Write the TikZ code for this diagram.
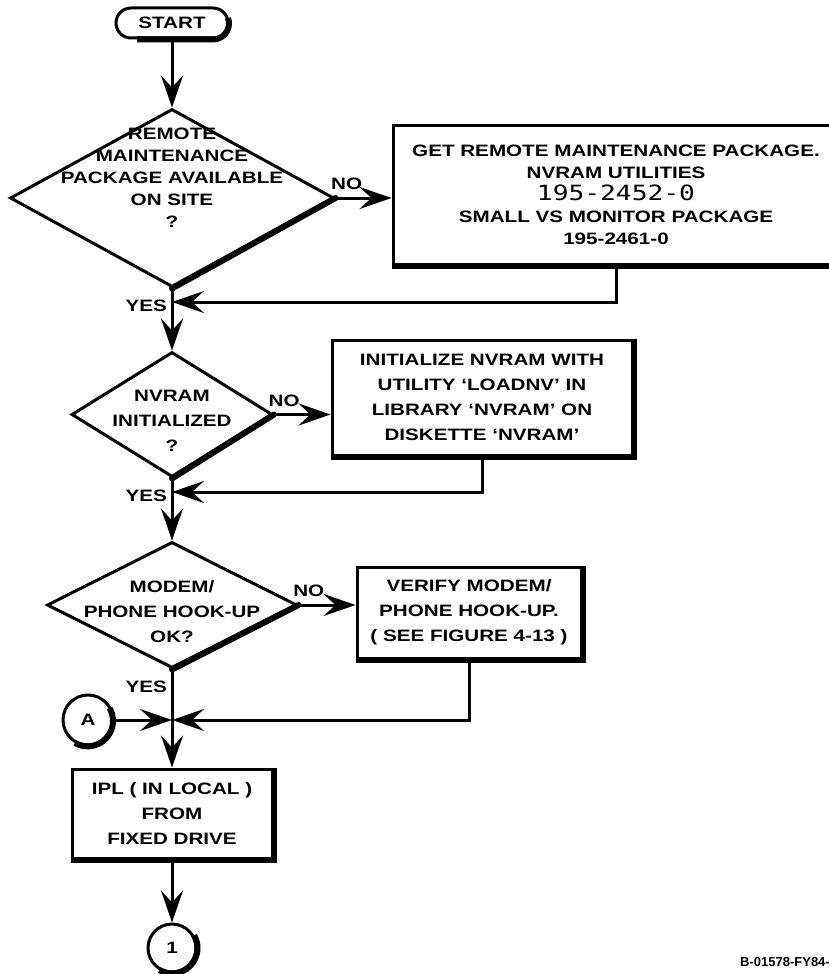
\documentclass[tikz,border=0pt]{standalone}
\usepackage{fontspec}
\setmainfont{Liberation Sans}[FakeStretch=1.25]
\newfontfamily\numfont{DejaVu Sans Mono}[FakeStretch=1.25]
\newfontfamily\tagfont{Liberation Sans}
\usetikzlibrary{shapes.geometric,arrows.meta,positioning}

\tikzset{
	box/.style={draw, rectangle, line width=3pt, inner sep=0pt, align=center, font=\bfseries\fontsize{16.5}{25}\selectfont},
	decision/.style={draw, diamond, line width=3pt, inner sep=0pt},
	dtext/.style={align=center, inner sep=0pt, font=\bfseries\fontsize{16.5}{25}\selectfont},
	conn/.style={draw, circle, line width=3pt, minimum size=50pt, inner sep=0pt, font=\bfseries\fontsize{16.5}{16}\selectfont},
	lbl/.style={inner sep=0pt, outer sep=0pt, font=\bfseries\fontsize{16.5}{16}\selectfont},
	heavy/.style={line width=6pt},
	flow/.style={line width=3pt, -{Stealth[length=32pt,width=22pt,inset=12pt]}}
}

\begin{document}
\begin{tikzpicture}[x=1pt,y=-1pt]
	\useasboundingbox (0,0) rectangle (829,974);
	
	\node[draw, rectangle, rounded corners=15pt, line width=3pt, minimum width=112pt, minimum height=30pt, inner sep=0pt, font=\bfseries\fontsize{16.5}{16}\selectfont] (start) at (172,23) {START};
	
	\node[decision, minimum width=324pt, minimum height=178pt, label={[dtext, font=\bfseries\fontsize{16.5}{22}\selectfont, yshift=20pt]center:{REMOTE\\MAINTENANCE\\PACKAGE AVAILABLE\\ON SITE\\?}}] (remote) at (172,198) {};
	\node[box, font=\bfseries\fontsize{16.5}{22}\selectfont, minimum width=446pt, minimum height=139pt] (getpkg) at (616,194.5) {GET REMOTE MAINTENANCE PACKAGE.\\NVRAM UTILITIES\\{\numfont\mdseries\fontsize{21}{22}\selectfont 195-2452-0}\\SMALL VS MONITOR PACKAGE\\195-2461-0};
	
	\node[decision, minimum width=201pt, minimum height=125pt, label={[dtext, yshift=-6pt]center:{NVRAM\\INITIALIZED\\?}}] (nvinit) at (172,414.5) {};
	\node[box, minimum width=300pt, minimum height=115pt] (initnv) at (482,397.5) {INITIALIZE NVRAM WITH\\UTILITY `LOADNV' IN\\LIBRARY `NVRAM' ON\\DISKETTE `NVRAM'};
	
	\node[decision, minimum width=250pt, minimum height=126pt, label={[dtext, yshift=-7pt]center:{MODEM/\\PHONE HOOK-UP\\OK?}}] (modem) at (172,605) {};
	\node[box, minimum width=224pt, minimum height=91pt] (verify) at (469,612.5) {VERIFY MODEM/\\PHONE HOOK-UP.\\( SEE FIGURE 4-13 )};
	
	\node[conn] (conA) at (88,720) {A};
	\node[box, minimum width=200pt, minimum height=89pt] (ipl) at (172,813.5) {IPL ( IN LOCAL )\\FROM\\FIXED DRIVE};
	\node[conn, minimum size=48pt] (conOne) at (172,948) {1};
	
	\coordinate (j1) at (172,302);
	\coordinate (j2) at (172,492);
	\coordinate (j3) at (172,720);
	
	% heavy lower/right edges
	\draw[heavy] ([xshift=-35pt]start.south) -- ([xshift=41pt]start.south) arc[start angle=-90, end angle=20, radius=16pt];
	\foreach \n in {getpkg,initnv,verify,ipl}
		\draw[heavy] (\n.south west) -- (\n.south east) -- (\n.north east);
	\foreach \n in {remote,nvinit,modem}
		\draw[heavy, line cap=round] (\n.south) -- (\n.east);
	\foreach \n in {conA,conOne}
		\draw[heavy] (\n.-120) arc[start angle=-120, end angle=30, radius=25.5pt];
	
	\draw[flow] (start) -- (remote);
	\draw[flow] (remote.east) -- node[lbl, above=8pt, pos=.2] (no1) {NO} (remote.east -| getpkg.west);
	\draw[flow] (getpkg.south) |- (j1);
	\draw[flow] (remote) -- (nvinit);
	\node[lbl, below left=11pt and 5pt of remote.south] (yes1) {YES};
	
	\draw[flow] (nvinit.east) -- node[lbl, above=8pt, pos=.18] (no2) {NO} (nvinit.east -| initnv.west);
	\draw[flow] (initnv.south) |- (j2);
	\draw[flow] (nvinit) -- (modem);
	\node[lbl, below left=11pt and 5pt of nvinit.south] (yes2) {YES};
	
	\draw[flow] (modem.east) -- node[lbl, above=8pt, pos=.18] (no3) {NO} (modem.east -| verify.west);
	\draw[flow] (verify.south) |- (j3);
	\draw[flow] (conA) -- (j3);
	\draw[flow] (modem) -- (ipl);
	\node[lbl, below left=11pt and 5pt of modem.south] (yes3) {YES};
	
	\draw[flow] (ipl) -- (conOne);
	
	\node[inner sep=0pt, anchor=east, font=\tagfont\bfseries\fontsize{13}{13}\selectfont] (tag) at (830,962) {B-01578-FY84-};
\end{tikzpicture}
\end{document}
